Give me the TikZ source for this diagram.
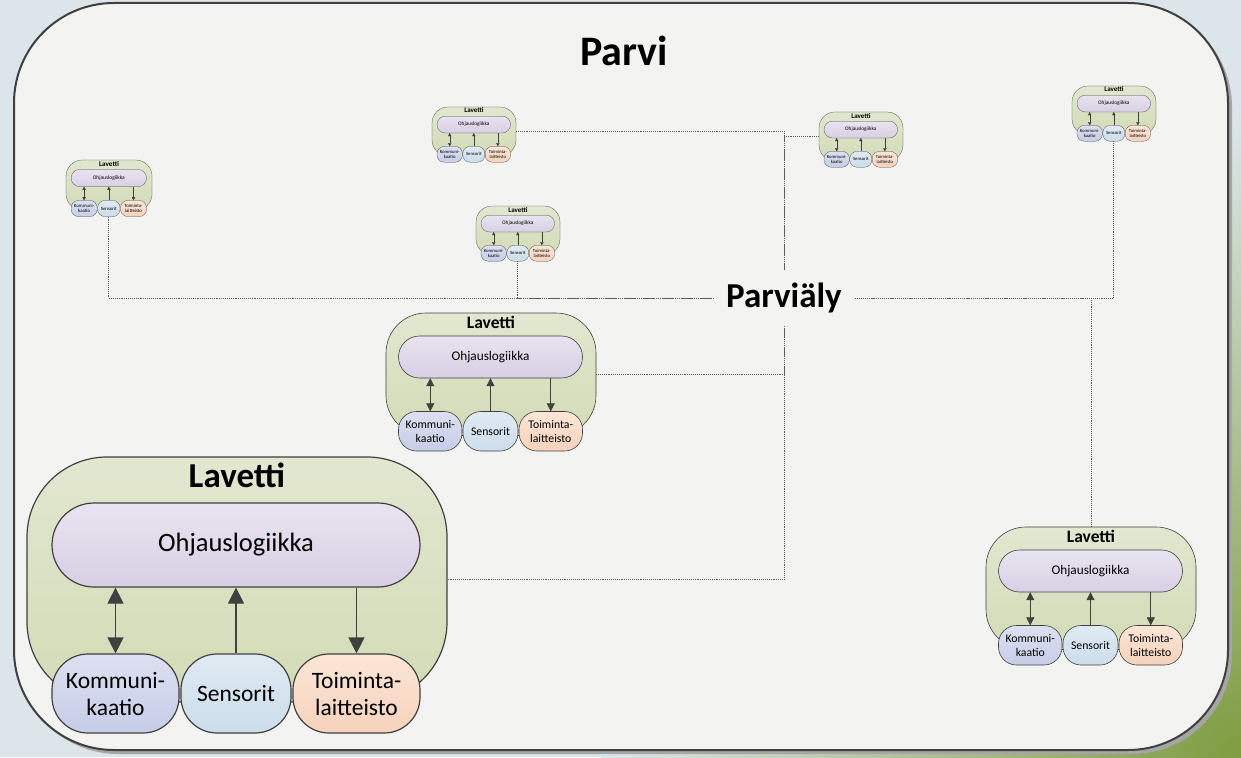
\documentclass[tikz,border=0pt]{standalone}
\usepackage{fontspec}
\setmainfont{Carlito}
\usetikzlibrary{arrows.meta}

\definecolor{lineGray}{HTML}{404040}
\definecolor{platTop}{HTML}{E2E7D0}
\definecolor{platBot}{HTML}{D3DBB6}
\definecolor{logicTop}{HTML}{E8E4F0}
\definecolor{logicBot}{HTML}{D8CFE4}
\definecolor{kommTop}{HTML}{DDE0F1}
\definecolor{kommBot}{HTML}{C7CDE8}
\definecolor{sensTop}{HTML}{E0EAF3}
\definecolor{sensBot}{HTML}{CCDDEB}
\definecolor{toimTop}{HTML}{FCE6D6}
\definecolor{toimBot}{HTML}{F5D2BC}
\definecolor{frameFill}{HTML}{F3F3F2}
\definecolor{bgBlue}{HTML}{DCE6EA}
\definecolor{bgGreen}{HTML}{7F9C40}

\tikzset{
  platform/.style={draw=lineGray, top color=platTop, bottom color=platBot,
    minimum width=420pt, minimum height=245pt},
  platlabel/.style={font=\fontsize{35}{40}\selectfont\bfseries, inner sep=0pt, anchor=base},
  logic/.style={draw=lineGray, top color=logicTop, bottom color=logicBot,
    minimum width=368pt, minimum height=84pt, font=\fontsize{26.5}{30}\selectfont},
  unit/.style={draw=lineGray, minimum height=79pt, inner sep=1pt, align=center,
    font=\fontsize{23.5}{27}\selectfont},
  komm/.style={unit, top color=kommTop, bottom color=kommBot, minimum width=127pt},
  sens/.style={unit, top color=sensTop, bottom color=sensBot, minimum width=110pt},
  toim/.style={unit, top color=toimTop, bottom color=toimBot, minimum width=127pt},
  link/.style={draw=lineGray!85, line width=0.9pt, densely dotted},
}

% one platform: name, left, top, scale
\newcommand\lavetti[4]{%
  \pgfmathsetlengthmacro\lvlw{#4*1.2pt}%
  \pgfmathsetlengthmacro\lvrad{#4*80pt}%
  \pgfmathsetlengthmacro\lvrl{#4*42pt}%
  \pgfmathsetlengthmacro\lvru{#4*36pt}%
  \begin{scope}[shift={(#2,#3)}, scale=#4, transform shape, line width=\lvlw]
    \node[platform, rounded corners=\lvrad] (#1) at (210,122.5) {};
    \node[platlabel] (#1-label) at (210,30) {Lavetti};
    \node[logic, rounded corners=\lvrl] (#1-logic) at (209,88) {Ohjauslogiikka};
    \node[komm, rounded corners=\lvru] (#1-komm) at (88.5,236.5) {Kommuni-\\kaatio};
    \node[sens, rounded corners=\lvru] (#1-sens) at (209,236.5) {Sensorit};
    \node[toim, rounded corners=\lvru] (#1-toim) at (329.5,236.5) {Toiminta-\\laitteisto};
    \draw[lineGray, {Triangle[length=16pt,width=16pt,scale=#4]}-{Triangle[length=16pt,width=16pt,scale=#4]}]
      (#1-komm.north) -- (#1-komm.north |- #1-logic.south);
    \draw[lineGray, -{Triangle[length=16pt,width=16pt,scale=#4]}]
      (#1-sens.north) -- (#1-sens.north |- #1-logic.south);
    \draw[lineGray, -{Triangle[length=16pt,width=16pt,scale=#4]}]
      (#1-toim.north |- #1-logic.south) -- (#1-toim.north);
  \end{scope}}

\begin{document}
\begin{tikzpicture}[x=1pt, y=-1pt]
  % background and frame
  \fill[bgBlue] (0,0) rectangle (1241,757);
  \useasboundingbox (0,0) rectangle (1241,757);
  \begin{scope}
    \clip (0,0) rectangle (1241,757);
    \shade[inner color=bgGreen, outer color=bgBlue] (1241,757) circle (640pt);
  \end{scope}
  \fill[gray!70, rounded corners=100pt] (18,7) rectangle (1232,754);
  \draw[draw=lineGray, fill=frameFill, line width=2pt, rounded corners=100pt] (14,3) rectangle (1228,750);

  \node[font=\fontsize{42}{46}\selectfont\bfseries, anchor=base, inner sep=0pt] (parvi) at (624,66) {Parvi};
  \node[font=\fontsize{35}{40}\selectfont\bfseries, inner sep=13pt] (parvialy) at (784,298) {Parviäly};

  \lavetti{lavBig}{27}{457}{1}
  \lavetti{lavMid}{386}{313}{0.5}
  \lavetti{lavRight}{986}{527}{0.5}
  \lavetti{lavA}{66}{160}{0.205}
  \lavetti{lavB}{432}{107}{0.2}
  \lavetti{lavC}{476}{206}{0.2}
  \lavetti{lavD}{819}{112}{0.2}
  \lavetti{lavE}{1072}{86}{0.2}

  % swarm links
  \draw[link] (lavA-sens.south) |- (parvialy.west);
  \draw[link] (lavC-sens.south) |- (parvialy.west);
  \draw[link] (lavB.east) -| (parvialy.north);
  \draw[link] (lavD.west) -| (parvialy.north);
  \draw[link] (lavE-sens.south) |- (parvialy.east);
  \draw[link] (lavRight.north) |- (parvialy.east);
  \draw[link] (lavMid.east) -| (parvialy.south);
  \draw[link] (lavBig.east) -| (parvialy.south);
\end{tikzpicture}
\end{document}
